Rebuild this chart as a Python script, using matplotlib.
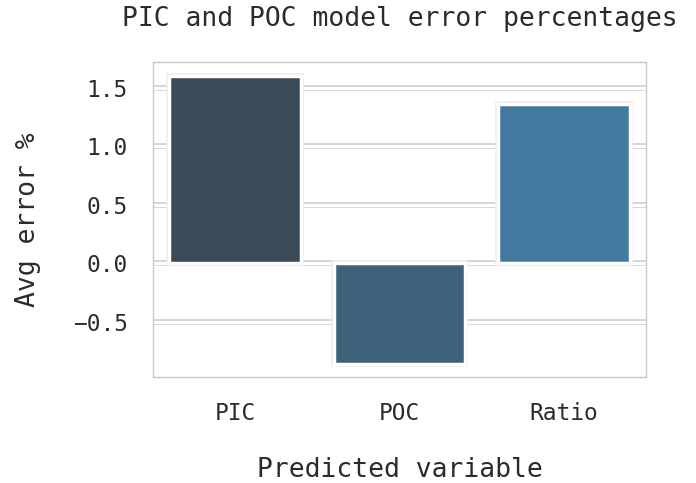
import matplotlib
matplotlib.use('Agg')
import matplotlib.pyplot as plt
import matplotlib.patheffects as pe
import numpy as np

# 数据
variables = ['PIC', 'POC', 'Ratio']
avg_error = [1.60, -0.86, 1.36]
bar_colors = ['#3a4a59', '#3f6179', '#43789f']

mono = 'DejaVu Sans Mono'
text_color = '#2b2b2b'

fig = plt.figure(figsize=(6.96, 4.83), dpi=100)
ax = fig.add_axes([0.2198, 0.2195, 0.7083, 0.652])
ax.set_axisbelow(True)

x = np.arange(len(variables))
bars = ax.bar(x, avg_error, width=0.8, color=bar_colors,
              edgecolor='white', linewidth=2.5, zorder=3)
for b in bars:
    b.set_path_effects([pe.Stroke(linewidth=4.0, foreground='#ececec'), pe.Normal()])

ax.set_xlim(-0.5, 2.5)
ax.set_ylim(-0.97, 1.72)
ax.set_yticks([-0.5, 0.0, 0.5, 1.0, 1.5])
ax.set_xticks(x)
ax.set_xticklabels(variables)

# 网格线（双线效果）
ax.yaxis.grid(True, color='white', linewidth=2.2, zorder=0,
              path_effects=[pe.Stroke(linewidth=4.2, foreground='#d4d4d4'), pe.Normal()])
ax.xaxis.grid(False)

for s in ax.spines.values():
    s.set_color('#c8c8c8')
    s.set_linewidth(1.0)

ax.tick_params(axis='both', length=0, labelsize=16.5, labelcolor=text_color)
ax.tick_params(axis='y', pad=18)
ax.tick_params(axis='x', pad=18)
for lab in ax.get_xticklabels() + ax.get_yticklabels():
    lab.set_family(mono)

ax.set_xlabel('Predicted variable', fontsize=19, family=mono, color=text_color, labelpad=23)
ax.set_ylabel('Avg error %', fontsize=19, family=mono, color=text_color, labelpad=23)
ax.set_title('PIC and POC model error percentages', fontsize=19, family=mono,
             color=text_color, pad=26)

fig.savefig('out.png', dpi=100)
